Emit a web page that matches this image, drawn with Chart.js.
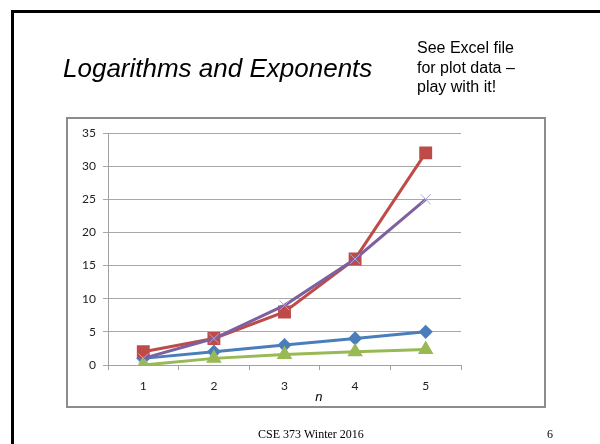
<!DOCTYPE html>
<html>
<head>
<meta charset="utf-8">
<script src="https://cdn.jsdelivr.net/npm/chart.js@4.4.1/dist/chart.umd.min.js"></script>
<style>
  html, body { margin: 0; padding: 0; background: #ffffff; }
  #wrap { position: relative; width: 600px; height: 444px; overflow: hidden; }
  canvas { position: absolute; left: 0; top: 0; }
</style>
</head>
<body>
<div id="wrap"><canvas id="c" width="600" height="444"></canvas></div>
<script>
// Values of n and the four growth functions
const nValues = ['1', '2', '3', '4', '5'];
const linear = [1, 2, 3, 4, 5];            // n
const powerOfTwo = [2, 4, 8, 16, 32];      // 2^n
const logBase2 = [0, 1, 1.585, 2, 2.322];  // log2 n
const squared = [1, 4, 9, 16, 25];         // n^2
const yTicks = [0, 5, 10, 15, 20, 25, 30, 35];

const slideTitle = 'Logarithms and Exponents';
const noteLines = ['See Excel file', 'for plot data \u2013', 'play with it!'];
const footerText = 'CSE 373 Winter 2016';
const pageNumber = '6';
const axisTitle = 'n';

// Slide frame, headings, chart box and footer
const slideDecor = {
  id: 'slideDecor',
  beforeDraw(chart) {
    const ctx = chart.ctx;
    ctx.save();
    ctx.fillStyle = '#ffffff';
    ctx.fillRect(0, 0, 600, 444);
    // slide border
    ctx.strokeStyle = '#000000';
    ctx.lineWidth = 3;
    ctx.beginPath();
    ctx.moveTo(12.5, 460);
    ctx.lineTo(12.5, 11.5);
    ctx.lineTo(620, 11.5);
    ctx.stroke();
    // chart box
    ctx.strokeStyle = '#8c8c8c';
    ctx.lineWidth = 2;
    ctx.strokeRect(67, 118, 478, 289);
    ctx.restore();
  },
  afterDraw(chart) {
    const ctx = chart.ctx;
    ctx.save();
    ctx.fillStyle = '#000000';
    ctx.textBaseline = 'alphabetic';
    ctx.textAlign = 'left';
    ctx.font = 'italic 26px "Liberation Sans", Arial, sans-serif';
    ctx.fillText(slideTitle, 63, 77);
    ctx.font = '16px "Liberation Sans", Arial, sans-serif';
    noteLines.forEach((t, i) => ctx.fillText(t, 417, 53 + i * 19.5));
    ctx.font = '12px "Liberation Serif", "Times New Roman", serif';
    ctx.fillText(footerText, 258, 438);
    ctx.fillText(pageNumber, 547, 438);
    // x axis title, placed between categories 3 and 4
    const xs = chart.scales.x;
    const xPos = (xs.getPixelForValue(2) + xs.getPixelForValue(3)) / 2 - 1;
    ctx.font = 'italic 13px "Liberation Sans", Arial, sans-serif';
    ctx.textAlign = 'center';
    ctx.fillText(axisTitle, xPos, 401);
    ctx.restore();
  }
};

const lineW = 3;
new Chart(document.getElementById('c'), {
  type: 'line',
  data: {
    labels: nValues,
    datasets: [
      { label: 'n', data: linear, borderColor: '#4a7ebb', backgroundColor: '#4a7ebb',
        pointStyle: 'rectRot', pointRadius: 5, borderWidth: lineW, order: 4 },
      { label: '2^n', data: powerOfTwo, borderColor: '#be4b48', backgroundColor: '#be4b48',
        pointStyle: 'rect', pointRadius: 7, borderWidth: lineW, order: 3 },
      { label: 'log n', data: logBase2, borderColor: '#98b954', backgroundColor: '#98b954',
        pointStyle: 'triangle', pointRadius: 6, borderWidth: lineW, order: 2 },
      { label: 'n^2', data: squared, borderColor: '#7d60a0', backgroundColor: '#a99bc8',
        pointBorderColor: '#b3a6d0', pointBorderWidth: 1, pointStyle: 'crossRot',
        pointRadius: 7, borderWidth: lineW, order: 1 }
    ]
  },
  options: {
    responsive: false,
    animation: false,
    events: [],
    layout: { padding: { left: 66, right: 139, top: 133, bottom: 36 } },
    plugins: { legend: { display: false }, tooltip: { enabled: false } },
    elements: { line: { tension: 0 } },
    scales: {
      x: {
        offset: true,
        grid: { offset: true, drawOnChartArea: false, drawTicks: true, tickLength: 5, color: '#a0a0a0' },
        border: { color: '#a0a0a0', width: 1 },
        ticks: { color: '#222222', padding: 9, font: { family: 'Lato, "Open Sans", sans-serif', size: 12 } },
        afterFit(s) { s.height = 43; }
      },
      y: {
        min: 0, max: 35,
        afterBuildTicks(s) { s.ticks = yTicks.map(v => ({ value: v })); },
        grid: { color: '#a8a8a8', lineWidth: 1, tickLength: 5 },
        border: { color: '#a0a0a0', width: 1 },
        ticks: { color: '#222222', padding: 7, font: { family: 'Lato, "Open Sans", sans-serif', size: 12 } },
        afterFit(s) { s.width = 42; }
      }
    }
  },
  plugins: [slideDecor]
});
</script>
</body>
</html>
